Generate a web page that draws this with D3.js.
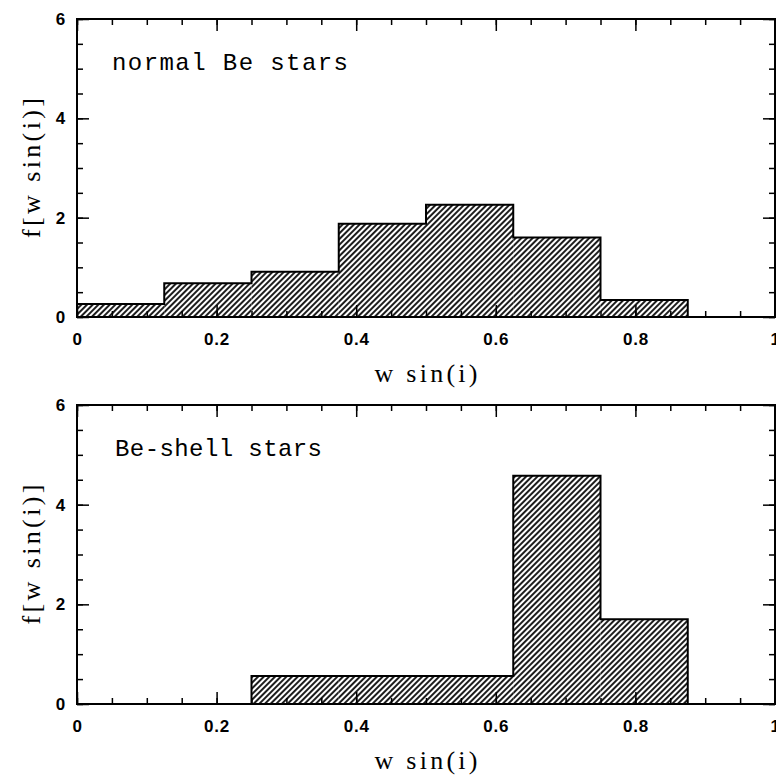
<!DOCTYPE html>
<html>
<head>
<meta charset="utf-8">
<script src="https://cdn.jsdelivr.net/npm/d3@7"></script>
<style>
  html, body { margin: 0; padding: 0; background: #fff; }
  svg { display: block; }
</style>
</head>
<body>
<svg id="chart" width="776" height="775"></svg>
<script>
// ---- data ----
const binStarts = [0, 0.125, 0.25, 0.375, 0.5, 0.625, 0.75, 0.875];
const binWidth = 0.125;
const normalBe = [0.26, 0.68, 0.91, 1.88, 2.26, 1.60, 0.34, 0];
const beShell  = [0, 0, 0.56, 0.56, 0.56, 4.58, 1.70, 0];
const xTickValues = [0, 0.2, 0.4, 0.6, 0.8, 1];
const yTickValues = [0, 2, 4, 6];
const panelTitles = ["normal Be stars", "Be-shell stars"];
const xLabel = "w sin(i)";
const yLabel = "f[w sin(i)]";

// ---- layout ----
const svg = d3.select("#chart");
const left = 77, right = 775;
const panels = [
  { top: 19, bottom: 317, values: normalBe, title: panelTitles[0], titleW: 236, titleX: 112 },
  { top: 405, bottom: 704, values: beShell, title: panelTitles[1], titleW: 207, titleX: 115 }
];

const defs = svg.append("defs");
const pat = defs.append("pattern")
  .attr("id", "hatch")
  .attr("patternUnits", "userSpaceOnUse")
  .attr("width", 4).attr("height", 4)
  .attr("patternTransform", "rotate(45)");
pat.append("rect").attr("width", 4).attr("height", 4).attr("fill", "#fff");
pat.append("line").attr("x1", 1).attr("y1", 0).attr("x2", 1).attr("y2", 4)
  .attr("stroke", "#111").attr("stroke-width", 1.9);

const x = d3.scaleLinear().domain([0, 1]).range([left, right]);
const minorX = d3.range(0, 1.0001, 0.05).map(d => +d.toFixed(2));
const minorY = d3.range(0, 6.0001, 0.5);

panels.forEach(p => {
  const y = d3.scaleLinear().domain([0, 6]).range([p.bottom, p.top]);
  const g = svg.append("g");

  // hatched bars
  const bins = binStarts.map((s, i) => ({ s, v: p.values[i] })).filter(d => d.v > 0);
  g.selectAll("rect.bar").data(bins).join("rect")
    .attr("class", "bar")
    .attr("x", d => x(d.s))
    .attr("width", d => x(d.s + binWidth) - x(d.s))
    .attr("y", d => y(d.v))
    .attr("height", d => y(0) - y(d.v))
    .attr("fill", "url(#hatch)");

  // outline
  const pts = [[bins[0].s, 0]];
  bins.forEach(d => pts.push([d.s, d.v]));
  const last = bins[bins.length - 1];
  pts.push([last.s + binWidth, last.v]);
  pts.push([last.s + binWidth, 0]);
  g.append("path")
    .attr("d", d3.line().x(d => x(d[0])).y(d => y(d[1])).curve(d3.curveStepAfter)(pts))
    .attr("fill", "none").attr("stroke", "#000").attr("stroke-width", 2)
    .attr("stroke-linejoin", "miter");

  // minor ticks
  const axStyle = sel => { sel.select(".domain").remove(); sel.selectAll("line").attr("stroke", "#000").attr("stroke-width", 1.5); };
  g.append("g").attr("transform", `translate(0,${p.bottom})`)
    .call(d3.axisBottom(x).tickValues(minorX).tickSize(-6).tickFormat("")).call(axStyle);
  g.append("g").attr("transform", `translate(0,${p.top})`)
    .call(d3.axisTop(x).tickValues(minorX).tickSize(-6).tickFormat("")).call(axStyle);
  g.append("g").attr("transform", `translate(${left},0)`)
    .call(d3.axisLeft(y).tickValues(minorY).tickSize(-6).tickFormat("")).call(axStyle);
  g.append("g").attr("transform", `translate(${right},0)`)
    .call(d3.axisRight(y).tickValues(minorY).tickSize(-6).tickFormat("")).call(axStyle);

  // major ticks + labels
  const labStyle = sel => sel.selectAll("text")
    .attr("font-family", "'Liberation Sans', Arial, sans-serif")
    .attr("font-weight", "bold").attr("font-size", 17)
    .attr("letter-spacing", 0.8).attr("fill", "#000");
  g.append("g").attr("transform", `translate(0,${p.bottom})`)
    .call(d3.axisBottom(x).tickValues(xTickValues).tickSize(-12).tickPadding(16)
      .tickFormat(d3.format("~g")))
    .call(axStyle).call(labStyle)
    .selectAll("text").attr("dy", "0.71em");
  g.append("g").attr("transform", `translate(0,${p.top})`)
    .call(d3.axisTop(x).tickValues(xTickValues).tickSize(-12).tickFormat("")).call(axStyle);
  g.append("g").attr("transform", `translate(${left},0)`)
    .call(d3.axisLeft(y).tickValues(yTickValues).tickSize(-12).tickPadding(11)
      .tickFormat(d3.format("~g")))
    .call(axStyle).call(labStyle);
  g.append("g").attr("transform", `translate(${right},0)`)
    .call(d3.axisRight(y).tickValues(yTickValues).tickSize(-12).tickFormat("")).call(axStyle);

  // frame
  g.append("rect")
    .attr("x", left).attr("y", p.top)
    .attr("width", right - left).attr("height", p.bottom - p.top)
    .attr("fill", "none").attr("stroke", "#000").attr("stroke-width", 2);

  // panel title
  g.append("text")
    .attr("x", p.titleX).attr("y", p.top + 51)
    .attr("font-family", "'Liberation Mono', 'DejaVu Sans Mono', monospace")
    .attr("font-size", 24)
    .attr("textLength", p.titleW).attr("lengthAdjust", "spacing")
    .attr("fill", "#000")
    .text(p.title);

  // x label
  g.append("text")
    .attr("x", (left + right) / 2).attr("y", p.bottom + 65)
    .attr("text-anchor", "middle")
    .attr("font-family", "'Liberation Serif', 'Times New Roman', serif")
    .attr("font-size", 26)
    .attr("textLength", 103).attr("lengthAdjust", "spacing")
    .attr("fill", "#000")
    .text(xLabel);

  // y label
  g.append("text")
    .attr("transform", `translate(40,${(p.top + p.bottom) / 2}) rotate(-90)`)
    .attr("text-anchor", "middle")
    .attr("font-family", "'Liberation Serif', 'Times New Roman', serif")
    .attr("font-size", 26)
    .attr("textLength", 140).attr("lengthAdjust", "spacing")
    .attr("fill", "#000")
    .text(yLabel);
});
</script>
</body>
</html>
